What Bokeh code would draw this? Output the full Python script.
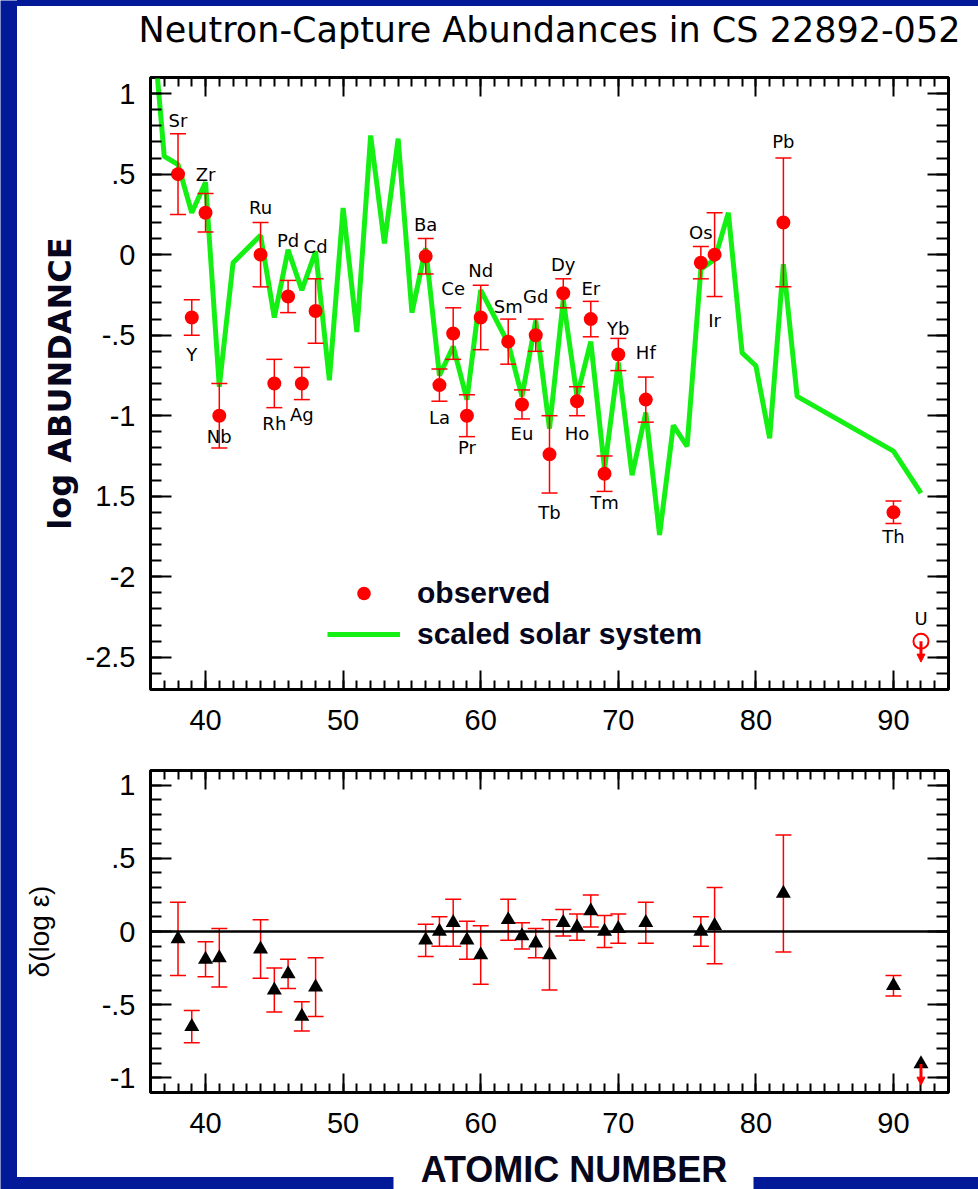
from bokeh.plotting import figure
from bokeh.models import (FixedTicker, LinearAxis, Range1d, Span, BoxAnnotation,
                          Legend, LegendItem, Arrow, NormalHead, Div, InlineStyleSheet)
from bokeh.layouts import column, row
from bokeh.core.properties import value
from bokeh.embed import file_html
from bokeh.resources import INLINE

# ---------------- data ----------------
solar_z = [36, 37, 38, 39, 40, 41, 42, 44, 45, 46, 47, 48, 49, 50, 51, 52, 53, 54, 55, 56,
           57, 58, 59, 60, 62, 63, 64, 65, 66, 67, 68, 69, 70, 71, 72, 73, 74, 75, 76, 77,
           78, 79, 80, 81, 82, 83, 90, 92]
solar_v = [1.60, 0.61, 0.56, 0.26, 0.45, -0.82, -0.05, 0.12, -0.39, 0.03, -0.22, 0.02, -0.78,
           0.29, -0.48, 0.74, 0.07, 0.72, -0.36, 0.04, -0.75, -0.57, -0.90, -0.22, -0.55,
           -0.88, -0.41, -1.08, -0.28, -0.88, -0.54, -1.33, -0.67, -1.37, -0.98, -1.74,
           -1.06, -1.19, -0.09, -0.03, 0.26, -0.61, -0.69, -1.14, -0.06, -0.88, -1.22, -1.48]

obs_el = ["Sr", "Y", "Zr", "Nb", "Ru", "Rh", "Pd", "Ag", "Cd", "Ba", "La", "Ce", "Pr", "Nd",
          "Sm", "Eu", "Gd", "Tb", "Dy", "Ho", "Er", "Tm", "Yb", "Hf", "Os", "Ir", "Pb", "Th"]
obs_z = [38, 39, 40, 41, 44, 45, 46, 47, 48, 56, 57, 58, 59, 60, 62, 63, 64, 65, 66, 67, 68,
         69, 70, 72, 76, 77, 82, 90]
obs_v = [0.50, -0.39, 0.26, -1.00, 0.00, -0.80, -0.26, -0.80, -0.35, -0.01, -0.81, -0.49,
         -1.00, -0.39, -0.54, -0.93, -0.50, -1.24, -0.24, -0.91, -0.40, -1.36, -0.62, -0.90,
         -0.05, 0.00, 0.20, -1.60]
obs_err = [0.25, 0.11, 0.12, 0.20, 0.20, 0.15, 0.10, 0.10, 0.20, 0.11, 0.10, 0.16, 0.13, 0.20,
           0.14, 0.09, 0.10, 0.24, 0.09, 0.09, 0.11, 0.11, 0.10, 0.14, 0.10, 0.26, 0.40, 0.07]
label_y = [0.83, -0.62, 0.50, -1.13, 0.29, -1.05, 0.09, -0.99, 0.05, 0.19, -1.01, -0.21,
           -1.20, -0.10, -0.32, -1.11, -0.26, -1.60, -0.06, -1.11, -0.21, -1.54, -0.46,
           -0.61, 0.14, -0.41, 0.70, -1.75]

u_el = "U"
u_z = 92
u_v = -2.40
u_limit_end = -2.53
u_label_y = -2.26

res_v = [-0.05, -0.65, -0.19, -0.18, -0.12, -0.40, -0.29, -0.58, -0.38, -0.06, 0.00, 0.06,
         -0.06, -0.16, 0.08, -0.03, -0.08, -0.16, 0.06, 0.03, 0.14, 0.00, 0.02, 0.06, 0.00,
         0.04, 0.26, -0.37]
u_res = -0.905
u_res_end = -1.05

x_major = [40, 50, 60, 70, 80, 90]
top_y_major = [-2.5, -2.0, -1.5, -1.0, -0.5, 0.0, 0.5, 1.0]
top_y_labels = ["-2.5", "-2", "1.5", "-1", "-.5", "0", ".5", "1"]
bot_y_major = [-1.0, -0.5, 0.0, 0.5, 1.0]
bot_y_labels = ["-1", "-.5", "0", ".5", "1"]

title_text = "Neutron-Capture Abundances in CS 22892-052"
x_title = "ATOMIC NUMBER"

# ---------------- styles ----------------
BLUE = "#031a98"
RED = "#ff0000"
GREEN = "#14f014"
INK = "#06061c"
TICK_FONT = "Liberation Sans"
W = 961  # white panel width (window 978 minus the 17 px blue band)

x_minor = list(range(36, 95))
top_y_minor = [round(i * 0.1, 1) for i in range(-27, 12)]
bot_y_minor = [round(i * 0.1, 1) for i in range(-11, 12)]


def style_axis(ax, major_in, minor_in, labels=None):
    ax.axis_line_color = None
    ax.major_tick_in = major_in
    ax.major_tick_out = 0
    ax.minor_tick_in = minor_in
    ax.minor_tick_out = 0
    ax.major_tick_line_width = 2
    ax.minor_tick_line_width = 2
    ax.major_tick_line_color = "black"
    ax.minor_tick_line_color = "black"
    if labels is None:
        ax.major_label_text_font_size = "1px"
        ax.major_label_text_color = None
        ax.major_label_standoff = 0
    else:
        ax.major_label_text_font = TICK_FONT
        ax.major_label_text_font_size = "29px"
        ax.major_label_text_color = "black"
        if labels:
            ax.major_label_overrides = labels


def make_fig(h, ymin, ymax, top, bottom):
    p = figure(width=W, height=h, x_range=Range1d(36, 94), y_range=Range1d(ymin, ymax),
               output_backend="svg", toolbar_location=None,
               min_border_left=133, min_border_right=30,
               min_border_top=top, min_border_bottom=bottom)
    p.grid.visible = False
    p.outline_line_color = "black"
    p.outline_line_width = 3
    p.background_fill_color = "white"
    p.border_fill_color = "white"
    p.border_fill_alpha = 0.0  # let the page panel (white with blue strips) show through
    return p


def add_frame_axes(p, y_major, y_minor, y_labels):
    xt = FixedTicker(ticks=x_major, minor_ticks=x_minor)
    yt = FixedTicker(ticks=y_major, minor_ticks=y_minor)
    p.xaxis.ticker = xt
    p.yaxis.ticker = yt
    style_axis(p.xaxis[0], 19, 9, {})
    p.xaxis[0].major_label_standoff = 20
    style_axis(p.yaxis[0], 21, 11, dict(zip(y_major, y_labels)))
    p.yaxis[0].major_label_standoff = 15
    top_ax = LinearAxis(ticker=xt)
    style_axis(top_ax, 19, 9)
    p.add_layout(top_ax, "above")
    right_ax = LinearAxis(ticker=yt)
    style_axis(right_ax, 21, 12)
    p.add_layout(right_ax, "right")
    return top_ax


# ---------------- blue bands ----------------
band = figure(width=17, height=1189, x_range=Range1d(0, 1), y_range=Range1d(0, 1),
              output_backend="svg", toolbar_location=None, min_border=0,
              x_axis_location=None, y_axis_location=None)
band.grid.visible = False
band.outline_line_color = None
band.background_fill_color = BLUE
band.border_fill_color = BLUE

topband = Div(text="", width=W, height=6, margin=0,
              styles={"background-color": BLUE},
              stylesheets=[InlineStyleSheet(css=":host { background-color: " + BLUE + "; }")])

# ---------------- top panel ----------------
p1 = make_fig(740, -2.7, 1.1, 70, 57)
top_axis = add_frame_axes(p1, top_y_major, top_y_minor, top_y_labels)
top_axis.axis_label = title_text
top_axis.axis_label_text_font = "DejaVu Sans"
top_axis.axis_label_text_font_size = "35px"
top_axis.axis_label_text_font_style = "normal"
top_axis.axis_label_text_color = "black"
top_axis.axis_label_standoff = 28

p1.yaxis[0].axis_label = "log ABUNDANCE"
p1.yaxis[0].axis_label_text_font = "DejaVu Sans"
p1.yaxis[0].axis_label_text_font_style = "bold"
p1.yaxis[0].axis_label_text_font_size = "32px"
p1.yaxis[0].axis_label_text_color = INK
p1.yaxis[0].axis_label_standoff = 4

solar_r = p1.line(solar_z, solar_v, line_color=GREEN, line_width=5)

lo = [v - e for v, e in zip(obs_v, obs_err)]
hi = [v + e for v, e in zip(obs_v, obs_err)]
p1.segment(x0=obs_z, y0=lo, x1=obs_z, y1=hi, line_color=RED, line_width=1.5)
p1.scatter(obs_z + obs_z, lo + hi, marker="dash", size=16, line_color=RED, line_width=1.5)
obs_r = p1.scatter(obs_z, obs_v, marker="circle", size=14, fill_color=RED, line_color=None)

p1.text(x=obs_z, y=label_y, text=obs_el, text_align="center", text_baseline="middle",
        text_font=value("DejaVu Sans"), text_font_size="18px", text_color="black")
p1.text(x=[u_z], y=[u_label_y], text=[u_el], text_align="center", text_baseline="middle",
        text_font=value("DejaVu Sans"), text_font_size="18px", text_color="black")

p1.scatter([u_z], [u_v], marker="circle", size=15, fill_color=None, line_color=RED,
           line_width=2)
p1.add_layout(Arrow(x_start=u_z, y_start=u_v, x_end=u_z, y_end=u_limit_end,
                    line_color=RED, line_width=3,
                    end=NormalHead(size=8, fill_color=RED, line_color=RED)))

legend = Legend(items=[LegendItem(label="observed", renderers=[obs_r]),
                       LegendItem(label="scaled solar system", renderers=[solar_r])],
                location=(177, 38), orientation="vertical", glyph_width=73,
                glyph_height=34, label_height=34, label_standoff=17, spacing=7,
                padding=0, margin=0, border_line_alpha=0, background_fill_alpha=0,
                label_text_font="Liberation Sans", label_text_font_style="bold",
                label_text_font_size="30px", label_text_color=INK)
p1.add_layout(legend)

# ---------------- bottom panel ----------------
p2 = make_fig(404, -1.1, 1.1, 24, 58)
add_frame_axes(p2, bot_y_major, bot_y_minor, bot_y_labels)
p2.yaxis[0].axis_label = "δ(log ε)"
p2.yaxis[0].axis_label_text_font = "Liberation Sans"
p2.yaxis[0].axis_label_text_font_style = "normal"
p2.yaxis[0].axis_label_text_font_size = "28px"
p2.yaxis[0].axis_label_text_color = "black"
p2.yaxis[0].axis_label_standoff = 44

rlo = [v - e for v, e in zip(res_v, obs_err)]
rhi = [v + e for v, e in zip(res_v, obs_err)]
p2.segment(x0=obs_z, y0=rlo, x1=obs_z, y1=rhi, line_color=RED, line_width=1.5)
p2.scatter(obs_z + obs_z, rlo + rhi, marker="dash", size=16, line_color=RED, line_width=1.5)
p2.add_layout(Span(location=0, dimension="width", line_color="black", line_width=2.5))
p2.scatter(obs_z, res_v, marker="triangle", size=15, fill_color="black", line_color=None)
p2.scatter([u_z], [u_res], marker="triangle", size=15, fill_color="black", line_color=None)
p2.add_layout(Arrow(x_start=u_z, y_start=u_res, x_end=u_z, y_end=u_res_end,
                    line_color=RED, line_width=3,
                    end=NormalHead(size=8, fill_color=RED, line_color=RED)))

# ---------------- x-axis title strip (its frame spans the plot frame: 150..948 px) ----------------
p3 = figure(width=W, height=39, x_range=Range1d(150, 948), y_range=Range1d(0, 39),
            output_backend="svg", toolbar_location=None,
            min_border_left=133, min_border_right=30, min_border_top=0, min_border_bottom=0,
            x_axis_location=None, y_axis_location=None)
p3.grid.visible = False
p3.outline_line_color = None
p3.background_fill_color = "white"
p3.background_fill_alpha = 0.0
p3.border_fill_color = "white"
p3.border_fill_alpha = 0.0
p3.add_layout(BoxAnnotation(left=393, right=753, bottom=-2, top=14, fill_color="white",
                            fill_alpha=1.0, line_color=None, level="underlay"))
p3.text(x=[573.5], y=[20.5], text=[x_title], text_align="center", text_baseline="middle",
        text_font=value("Liberation Sans"), text_font_style="bold", text_font_size="36px",
        text_color=INK)

panel = column(topband, p1, p2, p3, spacing=0,
               styles={"background": "linear-gradient(to bottom, " + BLUE + " 0px, " + BLUE
                                     + " 6px, #ffffff 6px, #ffffff 1177px, " + BLUE
                                     + " 1177px, " + BLUE + " 1189px)"})
layout = row(band, panel, spacing=0)
open("out.html", "w").write(file_html(layout, INLINE))
